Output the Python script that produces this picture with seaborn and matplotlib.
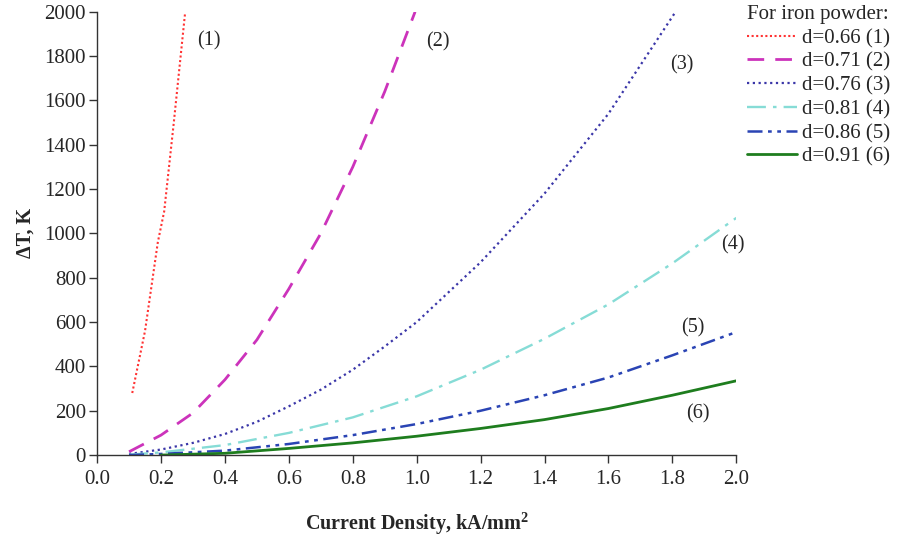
import matplotlib
matplotlib.use("Agg")
import matplotlib.pyplot as plt
import seaborn as sns
import pandas as pd

# ---- data ----
x1 = [0.11, 0.15, 0.19, 0.21, 0.24, 0.275]
y1 = [280, 560, 960, 1100, 1500, 1990]

x2 = [0.10, 0.20, 0.30, 0.40, 0.50, 0.60, 0.70, 0.80, 0.90, 0.995]
y2 = [15, 90, 190, 340, 520, 750, 1000, 1300, 1640, 2000]

x3 = [0.10, 0.20, 0.30, 0.40, 0.50, 0.60, 0.70, 0.80, 0.90, 1.00, 1.20, 1.40, 1.60, 1.81]
y3 = [5, 25, 55, 95, 150, 220, 295, 385, 490, 600, 870, 1180, 1540, 2000]

x4 = [0.10, 0.20, 0.40, 0.60, 0.80, 1.00, 1.20, 1.40, 1.60, 1.80, 2.00]
y4 = [2, 12, 45, 100, 170, 265, 385, 525, 680, 865, 1070]

x5 = [0.10, 0.20, 0.40, 0.60, 0.80, 1.00, 1.20, 1.40, 1.60, 1.80, 2.00]
y5 = [0, 5, 20, 50, 90, 140, 200, 270, 350, 450, 555]

x6 = [0.20, 0.40, 0.60, 0.80, 1.00, 1.20, 1.40, 1.60, 1.80, 2.00]
y6 = [0, 8, 30, 55, 85, 120, 160, 210, 270, 335]

labels = ["d=0.66 (1)", "d=0.71 (2)", "d=0.76 (3)", "d=0.81 (4)", "d=0.86 (5)", "d=0.91 (6)"]
curve_tags = ["(1)", "(2)", "(3)", "(4)", "(5)", "(6)"]
tag_x = [0.35, 1.065, 1.83, 1.99, 1.865, 1.88]
tag_y = [1870, 1865, 1760, 950, 575, 185]

xticks = [0.0, 0.2, 0.4, 0.6, 0.8, 1.0, 1.2, 1.4, 1.6, 1.8, 2.0]
yticks = [0, 200, 400, 600, 800, 1000, 1200, 1400, 1600, 1800, 2000]

# ---- styles ----
colors = ["#ff3333", "#cc33bb", "#3a36a8", "#86dcd6", "#2a44b4", "#1e7d1e"]
dashes = [(0, (1, 1.2)), (0, (6, 4)), (0, (1, 1.6)), (0, (8, 3, 1.5, 3)),
          (0, (6, 2.2, 1.5, 2.2, 1.5, 2.2)), "-"]
widths = [1.5, 2.0, 1.6, 1.7, 1.8, 2.0]

sns.set_style("ticks")
plt.rcParams["font.family"] = ["Liberation Serif", "DejaVu Serif"]
plt.rcParams["mathtext.fontset"] = "custom"
plt.rcParams["mathtext.rm"] = "Liberation Serif"
plt.rcParams["mathtext.bf"] = "Liberation Serif:bold"

fig = plt.figure(figsize=(8.99, 5.36), dpi=100)
ax = fig.add_axes([0.108, 0.151, 0.711, 0.827])

xs = [x1, x2, x3, x4, x5, x6]
ys = [y1, y2, y3, y4, y5, y6]
for i in range(6):
    df = pd.DataFrame({"x": xs[i], "y": ys[i]})
    sns.lineplot(data=df, x="x", y="y", ax=ax, color=colors[i], linewidth=widths[i],
                 label=labels[i], sort=False)
    ax.lines[-1].set_linestyle(dashes[i])

for t, tx, ty in zip(curve_tags, tag_x, tag_y):
    ax.text(tx, ty, t, fontsize=14.5, ha="center", va="center")

ax.set_xlim(0, 2.0)
ax.set_ylim(0, 2000)
ax.set_xticks(xticks)
ax.set_xticklabels([f"{v:.1f}" for v in xticks])
ax.set_yticks(yticks)
ax.tick_params(axis="both", labelsize=15, direction="out", length=6, width=1, color="#333333")
ax.tick_params(axis="x", pad=5)
ax.tick_params(axis="y", pad=2)
for s in ["left", "bottom"]:
    ax.spines[s].set_color("#333333")
    ax.spines[s].set_linewidth(1.0)
sns.despine(ax=ax)
ax.set_xlabel("Current Density, kA/mm$^\\mathbf{2}$", fontsize=14.5, fontweight="bold", labelpad=15)
ax.set_ylabel("ΔT, K", fontsize=14.5, fontweight="bold", labelpad=6)

handles, lbls = ax.get_legend_handles_labels()
ax.get_legend().remove()
leg = fig.legend(handles, lbls, title="For iron powder:", loc="upper left",
                 bbox_to_anchor=(0.826, 0.998), frameon=False, fontsize=15,
                 title_fontsize=15, handlelength=2.4, handletextpad=0.25,
                 labelspacing=0.2, borderaxespad=0, borderpad=0.2)
leg._legend_box.align = "left"

fig.savefig("out.png", dpi=100)
